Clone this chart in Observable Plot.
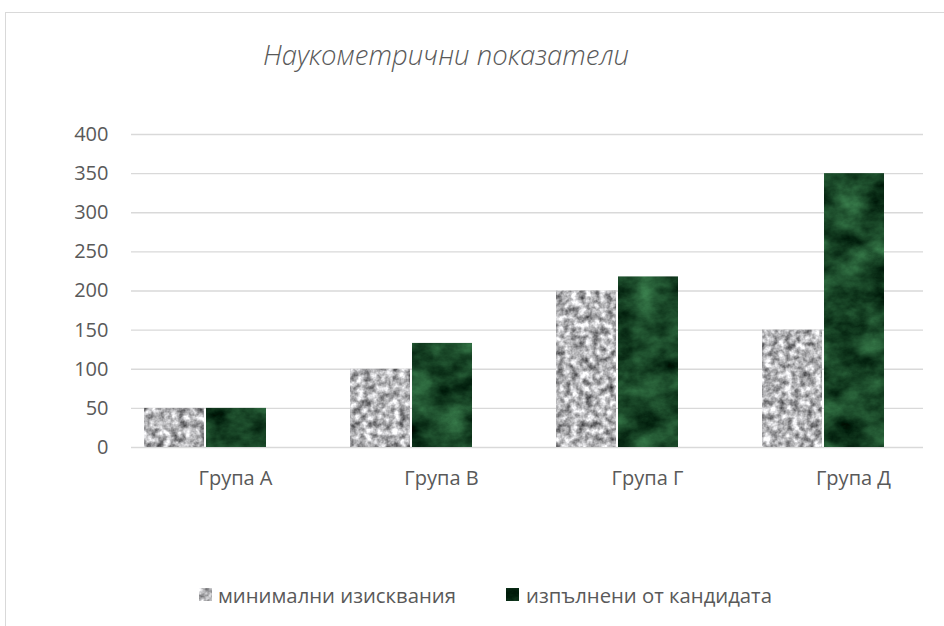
<!DOCTYPE html>
<html>
<head>
<meta charset="utf-8">
<script src="https://cdn.jsdelivr.net/npm/d3@7"></script>
<script src="https://cdn.jsdelivr.net/npm/@observablehq/plot@0.6"></script>
<style>
  html, body { margin: 0; padding: 0; background: #fff; overflow: hidden; width: 944px; height: 626px; }
  #frame { position: absolute; left: 5px; top: 12px; width: 1000px; height: 700px; border: 1px solid #d9d9d9; box-sizing: border-box; z-index: 2; pointer-events: none; }
  #title { position: absolute; left: 263px; top: 36px; font-family: "Open Sans", sans-serif; font-style: italic; font-weight: 300; font-size: 27.5px; color: #595959; white-space: nowrap; z-index: 3; }
  #chart { position: absolute; left: 0; top: 0; }
  .leg { position: absolute; top: 584px; height: 22px; font-family: "Open Sans", sans-serif; font-size: 20.3px; line-height: 22px; color: #595959; white-space: nowrap; }
  .sw { position: absolute; top: 588px; }
</style>
</head>
<body>
<div id="frame"></div>
<div id="title">Наукометрични показатели</div>
<div id="chart"></div>
<div id="legend"></div>
<svg width="0" height="0" style="position:absolute">
  <defs>
    <filter id="fGranite" filterUnits="userSpaceOnUse" x="0" y="0" width="944" height="626" color-interpolation-filters="sRGB">
      <feTurbulence type="fractalNoise" baseFrequency="0.14" numOctaves="3" seed="4"/>
      <feColorMatrix type="matrix" values="1.2 0 0 0 0.1  1.2 0 0 0 0.1  1.2 0 0 0 0.11  0 0 0 0 1"/>
    </filter>
    <filter id="fMarble" filterUnits="userSpaceOnUse" x="0" y="0" width="944" height="626" color-interpolation-filters="sRGB">
      <feTurbulence type="fractalNoise" baseFrequency="0.03 0.045" numOctaves="5" seed="9"/>
      <feColorMatrix type="matrix" values="0.35 0 0 0 -0.08  0.6 0 0 0 -0.03  0.4 0 0 0 -0.05  0 0 0 0 1"/>
    </filter>
    <pattern id="granite" patternUnits="userSpaceOnUse" x="0" y="0" width="944" height="626">
      <rect width="944" height="626" filter="url(#fGranite)"/>
    </pattern>
    <pattern id="marble" patternUnits="userSpaceOnUse" x="0" y="0" width="944" height="626">
      <rect width="944" height="626" filter="url(#fMarble)"/>
    </pattern>
  </defs>
</svg>
<script>
const categories = ["Група А", "Група В", "Група Г", "Група Д"];
const seriesNames = ["минимални изисквания", "изпълнени от кандидата"];
const minimalValues = [50, 100, 200, 150];
const candidateValues = [50, 133, 218, 350];
const yTicks = [0, 50, 100, 150, 200, 250, 300, 350, 400];
const seriesFills = ["url(#granite)", "url(#marble)"];

const minimalData = categories.map((c, i) => ({category: c, value: minimalValues[i]}));
const candidateData = categories.map((c, i) => ({category: c, value: candidateValues[i]}));

const chart = Plot.plot({
  width: 944,
  height: 507,
  marginTop: 134,
  marginBottom: 60,
  marginLeft: 131,
  marginRight: 21,
  style: {background: "none", fontFamily: "Open Sans, sans-serif", fontSize: "20px", color: "#595959", overflow: "visible"},
  x: {domain: categories, range: [143, 884], paddingInner: 0.408, paddingOuter: 0, axis: null},
  y: {domain: [0, 400], axis: null},
  marks: [
    Plot.ruleY(yTicks, {stroke: "#d9d9d9", strokeWidth: 1.4}),
    Plot.barY(minimalData, {x: "category", y: "value", fill: seriesFills[0], insetRight: 62}),
    Plot.barY(candidateData, {x: "category", y: "value", fill: seriesFills[1], insetLeft: 62}),
    Plot.axisX({tickSize: 0, tickPadding: 23, dx: 30, label: null, fill: "#595959"}),
    Plot.axisY({ticks: yTicks, tickSize: 0, tickPadding: 23, label: null, fill: "#595959"})
  ]
});
document.getElementById("chart").appendChild(chart);

const legend = document.getElementById("legend");
const swatchX = [199, 506];
const textX = [218, 526];
seriesNames.forEach((name, i) => {
  const sw = document.createElement("div");
  sw.className = "sw";
  sw.style.left = swatchX[i] + "px";
  sw.innerHTML = `<svg width="13" height="13" style="display:block"><rect width="13" height="13" fill="${seriesFills[i]}"/></svg>`;
  legend.appendChild(sw);
  const t = document.createElement("div");
  t.className = "leg";
  t.style.left = textX[i] + "px";
  t.textContent = name;
  legend.appendChild(t);
});
</script>
</body>
</html>
